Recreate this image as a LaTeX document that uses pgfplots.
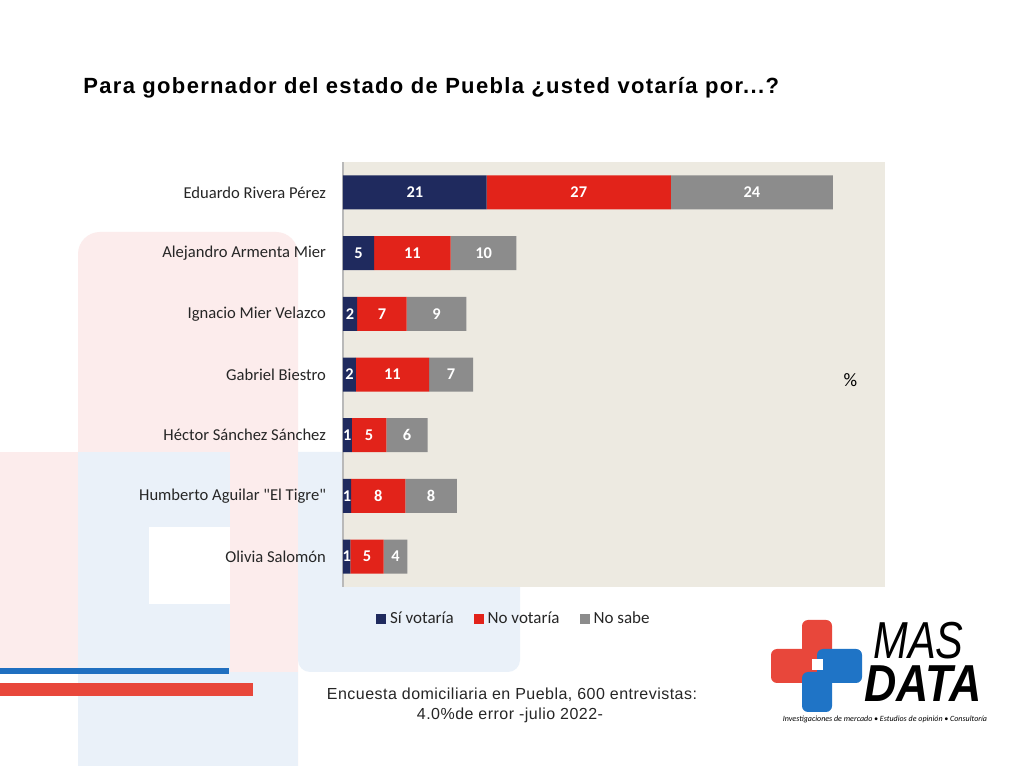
\documentclass[border=0pt]{standalone}
\usepackage{fontspec}
\setmainfont{Carlito}[Ligatures=TeXOff]
\newfontfamily\arial{Liberation Sans}
\newfontfamily\arialsp[LetterSpace=6]{Liberation Sans}
\newfontfamily\arialfoot[LetterSpace=3]{Liberation Sans}
\usepackage{pgfplots}
\pgfplotsset{compat=1.18}
\definecolor{navy}{HTML}{1F2A5E}
\definecolor{redb}{HTML}{E2231A}
\definecolor{grayb}{HTML}{8C8C8C}
\definecolor{plotbg}{HTML}{EDEAE1}
\definecolor{pinkbg}{HTML}{FCECEC}
\definecolor{bluebg}{HTML}{EAF1F9}
\definecolor{lineblue}{HTML}{1F6FC0}
\definecolor{linered}{HTML}{E8473B}
\definecolor{logored}{HTML}{E8473B}
\definecolor{logoblue}{HTML}{1F74C6}
\begin{document}
\begin{tikzpicture}
% background decorations in image pixel coordinates
\begin{scope}[x=0.5pt,y=-0.5pt,shift={(0pt,383pt)}]
\fill[white] (0,0) rectangle (1024,766);
\begin{scope}
\clip (0,0) rectangle (1024,766);
\fill[pinkbg, rounded corners=11pt] (78,800) -- (78,232) -- (298,232) -- (298,800) -- cycle;
\fill[pinkbg] (0,452) rectangle (78,672);
\fill[bluebg] (78,452) rectangle (230,672);
\fill[bluebg] (298,452) -- (520,452) [rounded corners=6pt] -- (520,672) -- (298,672) [sharp corners] -- cycle;
\fill[bluebg] (78,672) rectangle (298,766);
\fill[white] (149,527) rectangle (230,604);
\fill[lineblue] (0,668) rectangle (229,674);
\fill[linered] (0,683) rectangle (253,696);
\end{scope}
% title
\node[anchor=base west, inner sep=0pt, font=\arialsp\bfseries\fontsize{11}{13}\selectfont] at (83,94) {Para gobernador del estado de Puebla ¿usted votaría por...?};
% footnote
\node[inner sep=0pt, font=\arialfoot\fontsize{8}{9}\selectfont, text=black!85] at (512,695) {Encuesta domiciliaria en Puebla, 600 entrevistas:};
\node[inner sep=0pt, font=\arialfoot\fontsize{8}{9}\selectfont, text=black!85] at (510,715) {4.0\%de error -julio 2022-};
% logo
\fill[logored, rounded corners=3pt] (802,620) rectangle (832,672);
\fill[logored, rounded corners=3pt] (771,649) rectangle (817,683);
\fill[logoblue, rounded corners=3pt] (817,649) rectangle (862,683);
\fill[logoblue, rounded corners=3pt] (802,672) rectangle (832,712);
\fill[white] (812,659) rectangle (823,670);
\node[anchor=north west, inner sep=0pt, align=left, font=\arial\itshape\fontsize{26}{21.5}\selectfont] at (864,622)
  {\hspace*{4.5pt}\scalebox{0.8}[1]{MAS}\\\scalebox{0.86}[1]{\bfseries DATA}};
\node[inner sep=0pt, font=\itshape\fontsize{4}{5}\selectfont] at (885,719) {Investigaciones de mercado • Estudios de opinión • Consultoría};
\end{scope}
\begin{axis}[
  at={(171.5pt,89.5pt)}, anchor=south west,
  scale only axis, width=271pt, height=212.5pt,
  xbar stacked, bar width=17pt,
  xmin=0, xmax=80, ymin=-0.5, ymax=6.5,
  axis background/.style={fill=plotbg},
  axis x line=none,
  axis y line*=left,
  y axis line style={draw=gray!55, line width=0.6pt},
  ytick={0,...,6},
  yticklabels={Olivia Salomón, Humberto Aguilar "El Tigre", Héctor Sánchez Sánchez, Gabriel Biestro, Ignacio Mier Velazco, Alejandro Armenta Mier, Eduardo Rivera Pérez},
  ytick style={draw=none},
  yticklabel style={font=\fontsize{8.3}{10}\selectfont, text=black!85, xshift=-5pt},
  point meta=explicit symbolic,
  nodes near coords,
  every node near coord/.append style={text=white, font=\bfseries\fontsize{8.2}{10}\selectfont},
  legend style={at={(0.317,-0.075)}, anchor=center, draw=none, fill=none, legend columns=-1,
    font=\fontsize{8.5}{10}\selectfont, text=black!85,
    /tikz/every even column/.append style={column sep=8pt}},
  legend image code/.code={\fill[#1,draw=none] (0pt,-2.5pt) rectangle (5pt,2.5pt);},
  clip=false,
]
\addplot[fill=navy, draw=none] coordinates {(1.1,0) [1] (1.2,1) [1] (1.3,2) [1] (1.9,3) [2] (2.1,4) [2] (4.6,5) [5] (21.2,6) [21]};
\addplot[fill=redb, draw=none] coordinates {(4.9,0) [5] (8.0,1) [8] (5.1,2) [5] (10.8,3) [11] (7.3,4) [7] (11.3,5) [11] (27.2,6) [27]};
\addplot[fill=grayb, draw=none] coordinates {(3.5,0) [4] (7.6,1) [8] (6.1,2) [6] (6.5,3) [7] (8.8,4) [9] (9.7,5) [10] (23.9,6) [24]};
\legend{Sí votaría, No votaría, No sabe}
\node[font=\fontsize{9.5}{11}\selectfont] at (axis cs:74.9,2.9) {\%};
\end{axis}
\end{tikzpicture}
\end{document}
